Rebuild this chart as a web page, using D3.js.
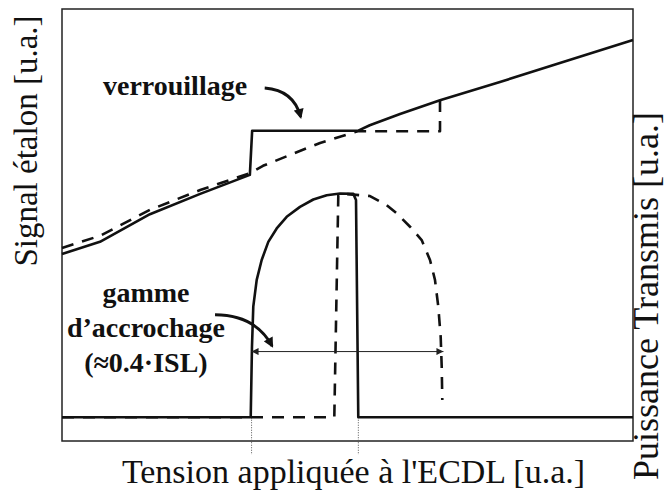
<!DOCTYPE html>
<html>
<head>
<meta charset="utf-8">
<script src="https://cdn.jsdelivr.net/npm/d3@7"></script>
</head>
<body style="margin:0">
<script>
// Values in arbitrary units (u.a.)
// Signal etalon, solid sweep
let etalonSolidX = [0, 6.65, 15.4, 24.2, 32.9, 33.3, 41.7, 51.8, 53.9, 59.2, 66.2, 76.7, 87.2, 100];
let etalonSolidY = [43.3, 46.1, 52.5, 57.2, 61.6, 71.8, 71.8, 71.8, 73.1, 75.7, 78.9, 83.1, 87.5, 92.8];
// Signal etalon, dashed sweep
let etalonDashX = [0, 6.65, 15.4, 24.2, 32.9, 35.2, 45.2, 51.8, 66.2, 66.2];
let etalonDashY = [44.7, 47.5, 53.5, 58.1, 62.0, 63.7, 69.0, 71.7, 71.7, 78.9];
// Puissance transmise, solid sweep
let transSolidX = [0, 33.05, 33.27, 33.5, 34.1, 34.97, 36.13, 37.6, 39.35, 41.68, 44.01, 46.36, 48.69, 51.02, 51.49, 51.89, 100];
let transSolidY = [5.5, 5.5, 21.8, 31.1, 37.3, 41.9, 46.1, 49.2, 51.9, 54.2, 55.9, 56.9, 57.3, 57.2, 55.8, 5.5, 5.5];
// Puissance transmise, dashed sweep
let transDashX = [0, 47.69, 48.39, 48.69, 53.94, 56.87, 58.62, 60.95, 62.99, 64.45, 65.32, 65.9, 66.32, 66.5, 66.6];
let transDashY = [5.5, 5.5, 56.9, 57.3, 56.7, 54.6, 52.7, 49.6, 46.5, 41.9, 37.3, 31.1, 24.1, 17.2, 9.5];
// lock range markers
let rangeEdges = [33.2, 51.9];
let rangeArrow = {x1: 33.2, x2: 66.8, y: 20.7};
let gammeLines = ["gamme", "d\u2019accrochage", "(\u22480.4\u00B7ISL)"];
let gammeY = [32.2, 24.1, 16.0];

// set the dimensions and margins of the graph
let margin = {top: 9, right: 32, bottom: 55, left: 62},
    width = 665 - margin.left - margin.right,
    height = 496 - margin.top - margin.bottom;

let svgRoot = d3.select("body")
    .append("svg")
    .attr("width", 665)
    .attr("height", 496);

let defs = svgRoot.append("defs");
defs.append("marker")
    .attr("id", "headThin")
    .attr("viewBox", "0 0 10 10")
    .attr("refX", 10).attr("refY", 5)
    .attr("markerWidth", 9).attr("markerHeight", 7)
    .attr("markerUnits", "userSpaceOnUse")
    .attr("orient", "auto-start-reverse")
    .append("path")
    .attr("d", "M0,0 L10,5 L0,10 z")
    .attr("fill", "#222");
defs.append("marker")
    .attr("id", "headThick")
    .attr("viewBox", "0 0 10 10")
    .attr("refX", 8).attr("refY", 5)
    .attr("markerWidth", 11).attr("markerHeight", 10)
    .attr("markerUnits", "userSpaceOnUse")
    .attr("orient", "auto")
    .append("path")
    .attr("d", "M0,0 L10,5 L0,10 z")
    .attr("fill", "#111");

let svg = svgRoot.append("g")
    .attr("transform", "translate(" + margin.left + "," + margin.top + ")");

let x = d3.scaleLinear().domain([0, 100]).range([0, width]);
let yEtalon = d3.scaleLinear().domain([0, 100]).range([height, 0]);
let yTrans = d3.scaleLinear().domain([0, 100]).range([height, 0]);

// frame
svg.append("rect")
    .attr("x", 0).attr("y", 0)
    .attr("width", width).attr("height", height)
    .attr("fill", "none")
    .attr("stroke", "#222")
    .attr("stroke-width", 1.5);

// dotted guide lines below the plot
svg.selectAll(".guide")
    .data(rangeEdges)
    .enter()
    .append("line")
    .attr("class", "guide")
    .attr("x1", d => x(d)).attr("x2", d => x(d))
    .attr("y1", yTrans(5.5)).attr("y2", yTrans(-3.2))
    .attr("stroke", "#555")
    .attr("stroke-width", 1)
    .attr("stroke-dasharray", "1,1.5");

function drawLine(xs, ys, yScale, dashed) {
    let pts = xs.map((d, i) => [d, ys[i]]);
    svg.append("path")
        .datum(pts)
        .attr("fill", "none")
        .attr("stroke", "#111")
        .attr("stroke-width", 2.6)
        .attr("stroke-linejoin", "round")
        .attr("stroke-dasharray", dashed ? "12,9" : null)
        .attr("d", d3.line()
            .x(d => x(d[0]))
            .y(d => yScale(d[1])));
}

drawLine(etalonDashX, etalonDashY, yEtalon, true);
drawLine(transDashX, transDashY, yTrans, true);
drawLine(etalonSolidX, etalonSolidY, yEtalon, false);
drawLine(transSolidX, transSolidY, yTrans, false);

// double arrow for the lock range
svg.append("line")
    .attr("x1", x(rangeArrow.x1)).attr("x2", x(rangeArrow.x2))
    .attr("y1", yTrans(rangeArrow.y)).attr("y2", yTrans(rangeArrow.y))
    .attr("stroke", "#222")
    .attr("stroke-width", 1)
    .attr("marker-start", "url(#headThin)")
    .attr("marker-end", "url(#headThin)");

// curved arrows of the annotations
function curvedArrow(p0, c, p1) {
    svg.append("path")
        .attr("d", "M" + x(p0[0]) + "," + yEtalon(p0[1]) +
            " Q" + x(c[0]) + "," + yEtalon(c[1]) + " " + x(p1[0]) + "," + yEtalon(p1[1]))
        .attr("fill", "none")
        .attr("stroke", "#111")
        .attr("stroke-width", 3)
        .attr("marker-end", "url(#headThick)");
}
curvedArrow([35.5, 81.7], [40.6, 81.2], [41.8, 75.0]);
curvedArrow([26.8, 29.2], [33.8, 29.2], [36.8, 22.0]);

// annotations
svg.append("text")
    .attr("x", x(19.8)).attr("y", yEtalon(80.2))
    .attr("text-anchor", "middle")
    .attr("fill", "#111")
    .style("font-family", "'Liberation Serif'")
    .style("font-size", "28px")
    .style("font-weight", "bold")
    .text("verrouillage");

svg.selectAll(".gamme")
    .data(gammeLines)
    .enter()
    .append("text")
    .attr("class", "gamme")
    .attr("x", x(14.7))
    .attr("y", (d, i) => yTrans(gammeY[i]))
    .attr("text-anchor", "middle")
    .attr("fill", "#111")
    .style("font-family", "'Liberation Serif'")
    .style("font-size", "28px")
    .style("font-weight", "bold")
    .text(d => d);

// axis titles
svgRoot.append("text")
    .attr("x", 353.5).attr("y", 483)
    .attr("text-anchor", "middle")
    .attr("fill", "#111")
    .style("font-family", "'Liberation Serif'")
    .style("font-size", "34px")
    .text("Tension appliqu\u00E9e \u00E0 l'ECDL [u.a.]");

svgRoot.append("text")
    .attr("transform", "translate(37,141) rotate(-90)")
    .attr("text-anchor", "middle")
    .attr("fill", "#111")
    .style("font-family", "'Liberation Serif'")
    .style("font-size", "33px")
    .text("Signal \u00E9talon [u.a.]");

svgRoot.append("text")
    .attr("transform", "translate(658,296) rotate(-90)")
    .attr("text-anchor", "middle")
    .attr("fill", "#111")
    .style("font-family", "'Liberation Serif'")
    .style("font-size", "36px")
    .text("Puissance Transmis [u.a.]");
</script>
</body>
</html>
